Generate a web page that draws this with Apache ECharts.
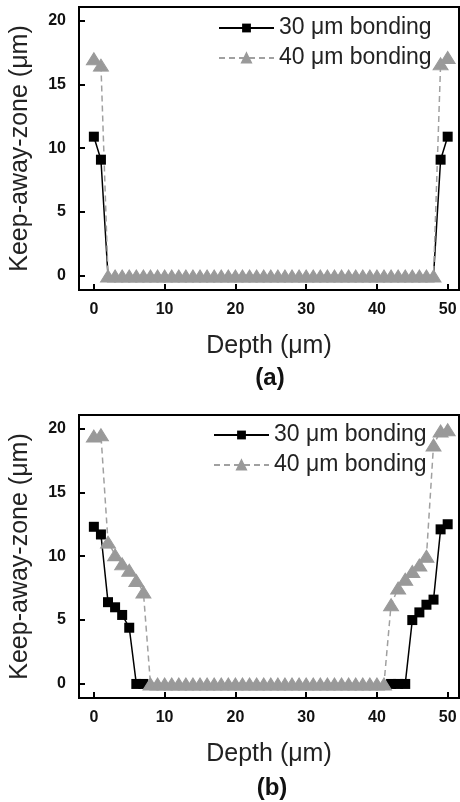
<!DOCTYPE html>
<html>
<head>
	<meta charset="UTF-8">
	<title>Keep-away-zone vs depth</title>
	<script src="https://cdn.jsdelivr.net/npm/echarts@6/dist/echarts.min.js"></script>
	<style>
		html, body { margin: 0; padding: 0; background: #fff; }
		#main { width: 460px; height: 802px; }
	</style>
</head>
<body>
	<div id="main"></div>
	<script type="text/javascript">
		// depth positions (um)
		var depth = [
			0, 1, 2, 3, 4, 5, 6, 7, 8, 9,
			10, 11, 12, 13, 14, 15, 16, 17, 18, 19,
			20, 21, 22, 23, 24, 25, 26, 27, 28, 29,
			30, 31, 32, 33, 34, 35, 36, 37, 38, 39,
			40, 41, 42, 43, 44, 45, 46, 47, 48, 49,
			50
		];
		// (a)
		var a30 = [
			10.9, 9.1, 0, 0, 0, 0, 0, 0, 0, 0,
			0, 0, 0, 0, 0, 0, 0, 0, 0, 0,
			0, 0, 0, 0, 0, 0, 0, 0, 0, 0,
			0, 0, 0, 0, 0, 0, 0, 0, 0, 0,
			0, 0, 0, 0, 0, 0, 0, 0, 0, 9.1,
			10.9
		];
		var a40 = [
			17.0, 16.5, 0, 0, 0, 0, 0, 0, 0, 0,
			0, 0, 0, 0, 0, 0, 0, 0, 0, 0,
			0, 0, 0, 0, 0, 0, 0, 0, 0, 0,
			0, 0, 0, 0, 0, 0, 0, 0, 0, 0,
			0, 0, 0, 0, 0, 0, 0, 0, 0, 16.6,
			17.1
		];
		// (b)
		var b30 = [
			12.3, 11.7, 6.4, 6.0, 5.4, 4.4, 0, 0, 0, 0,
			0, 0, 0, 0, 0, 0, 0, 0, 0, 0,
			0, 0, 0, 0, 0, 0, 0, 0, 0, 0,
			0, 0, 0, 0, 0, 0, 0, 0, 0, 0,
			0, 0, 0, 0, 0, 5.0, 5.6, 6.2, 6.6, 12.1,
			12.5
		];
		var b40 = [
			19.4, 19.5, 11.1, 10.1, 9.4, 8.9, 8.1, 7.2, 0, 0,
			0, 0, 0, 0, 0, 0, 0, 0, 0, 0,
			0, 0, 0, 0, 0, 0, 0, 0, 0, 0,
			0, 0, 0, 0, 0, 0, 0, 0, 0, 0,
			0, 0, 6.2, 7.5, 8.2, 8.8, 9.3, 10.0, 18.7, 19.8,
			19.9
		];
		var xTicks = [0, 10, 20, 30, 40, 50];
		var yTicks = [0, 5, 10, 15, 20];
		var name30 = '30 μm bonding';
		var name40 = '40 μm bonding';

		var font = '"Liberation Sans", Arial, sans-serif';

		// squares that sit under a triangle are hidden in the original plot
		function pairs(ys, under) {
			var out = [];
			for (var i = 0; i < depth.length; i++) {
				if (under && under[i] === ys[i]) {
					out.push({ value: [depth[i], ys[i]], symbol: 'none' });
				} else {
					out.push([depth[i], ys[i]]);
				}
			}
			return out;
		}

		function xAx(idx) {
			return {
				type: 'value', gridIndex: idx, min: -2.1, max: 51.6,
				splitLine: { show: false },
				axisLine: { show: true, onZero: false, lineStyle: { color: '#000', width: 2 } },
				axisTick: { show: true, inside: true, length: 6, customValues: xTicks, lineStyle: { color: '#000', width: 2 } },
				axisLabel: { customValues: xTicks, margin: 12, fontFamily: font, fontWeight: 'bold', fontSize: 16, color: '#111' },
				name: 'Depth (μm)', nameLocation: 'middle', nameGap: 44,
				nameTextStyle: { fontFamily: font, fontSize: 25, color: '#222' }
			};
		}
		function yAx(idx) {
			return {
				type: 'value', gridIndex: idx, min: -1.1, max: 21.05,
				splitLine: { show: false },
				axisLine: { show: true, onZero: false, lineStyle: { color: '#000', width: 2 } },
				axisTick: { show: true, inside: true, length: 6, customValues: yTicks, lineStyle: { color: '#000', width: 2 } },
				axisLabel: { customValues: yTicks, margin: 13, fontFamily: font, fontWeight: 'bold', fontSize: 16, color: '#111' },
				name: 'Keep-away-zone (μm)', nameLocation: 'middle', nameGap: 46,
				nameTextStyle: { fontFamily: font, fontSize: 25, color: '#222' }
			};
		}
		function s30(idx, ys, other) {
			return {
				name: name30, type: 'line', xAxisIndex: idx, yAxisIndex: idx,
				data: pairs(ys, other), symbol: 'rect', symbolSize: 10,
				itemStyle: { color: '#000' },
				lineStyle: { color: '#000', width: 1.5 },
				animation: false
			};
		}
		function s40(idx, ys) {
			return {
				name: name40, type: 'line', xAxisIndex: idx, yAxisIndex: idx,
				data: pairs(ys), symbol: 'triangle', symbolSize: [15, 12],
				itemStyle: { color: '#999', borderColor: '#9a9a9a', borderWidth: 1 },
				lineStyle: { color: '#a0a0a0', width: 1.5, type: [6, 4] },
				animation: false
			};
		}
		function leg(left, top) {
			return {
				orient: 'vertical', left: left, top: top,
				itemWidth: 55, itemHeight: 11, itemGap: 4,
				data: [name30, name40],
				textStyle: { fontFamily: font, fontSize: 23, color: '#222', lineHeight: 26 }
			};
		}

		var myChart = echarts.init(document.getElementById('main'));
		var option = {
			backgroundColor: '#fff',
			animation: false,
			grid: [
				{ left: 79, top: 7, width: 380, height: 283, show: true, borderColor: '#000', borderWidth: 2 },
				{ left: 79, top: 415, width: 380, height: 283, show: true, borderColor: '#000', borderWidth: 2 }
			],
			legend: [leg(213, 10), leg(208, 417)],
			xAxis: [xAx(0), xAx(1)],
			yAxis: [yAx(0), yAx(1)],
			series: [s30(0, a30, a40), s40(0, a40), s30(1, b30, b40), s40(1, b40)],
			graphic: [
				{ type: 'text', x: 270, y: 378, style: { text: '(a)', font: 'bold 24px ' + font, fill: '#111', textAlign: 'center', textVerticalAlign: 'middle' } },
				{ type: 'text', x: 272, y: 788, style: { text: '(b)', font: 'bold 24px ' + font, fill: '#111', textAlign: 'center', textVerticalAlign: 'middle' } }
			]
		};
		myChart.setOption(option);
	</script>
</body>
</html>
